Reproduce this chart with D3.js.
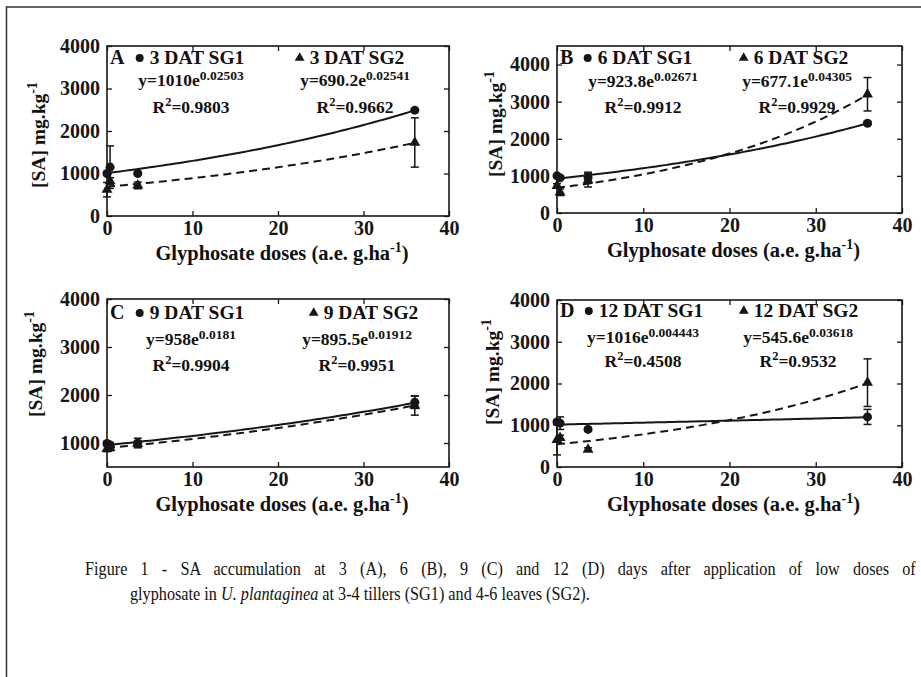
<!DOCTYPE html>
<html>
<head>
<meta charset="utf-8">
<script src="https://cdn.jsdelivr.net/npm/d3@7"></script>
<style>
  body { margin: 0; background: #fff; }
  svg { display: block; }
  text { font-family: "Liberation Serif", "Times New Roman", serif; fill: #111; }
</style>
</head>
<body>
<svg id="chart" width="921" height="677"></svg>
<script>
// doses (a.e. g/ha)
const doses = [0, 0.36, 3.6, 36];
const letters = ['A', 'B', 'C', 'D'];
const dat = [3, 6, 9, 12];

// SA means and error bars
const sg1Mean = [[1000, 1150, 1000, 2490], [1000, 950, 950, 2420], [990, 960, 1000, 1850], [1080, 1050, 900, 1200]];
const sg1Err  = [[40, 500, 30, 30], [40, 40, 150, 50], [40, 40, 100, 130], [40, 150, 40, 180]];
const sg2Mean = [[620, 820, 720, 1730], [730, 560, 880, 3200], [880, 900, 980, 1780], [650, 700, 420, 2020]];
const sg2Err  = [[170, 80, 80, 580], [60, 90, 180, 450], [60, 60, 60, 200], [360, 60, 40, 570]];

// fitted exponentials y = a e^(b x), as printed
const sg1A = ['1010', '923.8', '958', '1016'];
const sg1B = ['0.02503', '0.02671', '0.0181', '0.004443'];
const sg1R2 = ['0.9803', '0.9912', '0.9904', '0.4508'];
const sg2A = ['690.2', '677.1', '895.5', '545.6'];
const sg2B = ['0.02541', '0.04305', '0.01912', '0.03618'];
const sg2R2 = ['0.9662', '0.9929', '0.9951', '0.9532'];

const yDomains = [[0, 4000], [0, 4500], [500, 4000], [0, 4000]];
const yTicks = [[0, 1000, 2000, 3000, 4000], [0, 1000, 2000, 3000, 4000], [1000, 2000, 3000, 4000], [0, 1000, 2000, 3000, 4000]];
const xTicks = [0, 10, 20, 30, 40];

// panel boxes; c = equation column centres, lc = legend label centres
const boxes = [
  {left: 107, right: 449, top: 46, bottom: 216, c: [191, 355], lc: [197, 357], yl: -62, ylc: 135, row: [64, 86, 113]},
  {left: 557, right: 902, top: 46, bottom: 213, c: [643, 797], lc: [645, 801], yl: -55, ylc: 124, row: [64, 87, 113]},
  {left: 107, right: 449, top: 299, bottom: 467, c: [191, 357], lc: [197, 371], yl: -65, ylc: 364, row: [319, 345, 371]},
  {left: 557, right: 902, top: 300, bottom: 467, c: [643, 798], lc: [651, 806], yl: -58, ylc: 372, row: [317, 343, 367]}
];

const svg = d3.select('#chart');
const ink = '#161616';

// outer frame
svg.append('rect')
  .attr('x', 6.5).attr('y', 7)
  .attr('width', 930).attr('height', 690)
  .style('fill', 'none').style('stroke', '#333').style('stroke-width', 1.5);

boxes.forEach((b, i) => {
  const g = svg.append('g');
  const x = d3.scaleLinear().domain([0, 40]).range([b.left, b.right]);
  const y = d3.scaleLinear().domain(yDomains[i]).range([b.bottom, b.top]);

  // axes, inward ticks on all four sides
  g.append('g')
    .attr('transform', `translate(0,${b.bottom})`)
    .call(d3.axisBottom(x).tickValues(xTicks).tickSizeInner(-5).tickSizeOuter(0).tickPadding(5).tickFormat(d3.format('d')));
  g.append('g')
    .attr('transform', `translate(0,${b.top})`)
    .call(d3.axisTop(x).tickValues(xTicks).tickSizeInner(-5).tickSizeOuter(0).tickFormat(''));
  g.append('g')
    .attr('transform', `translate(${b.left},0)`)
    .call(d3.axisLeft(y).tickValues(yTicks[i]).tickSizeInner(-5).tickSizeOuter(0).tickPadding(7).tickFormat(d3.format('d')));
  g.append('g')
    .attr('transform', `translate(${b.right},0)`)
    .call(d3.axisRight(y).tickValues(yTicks[i]).tickSizeInner(-5).tickSizeOuter(0).tickFormat(''));
  g.selectAll('.domain').remove();
  g.selectAll('.tick line').style('stroke', ink).style('stroke-width', 1.3);
  g.selectAll('.tick text')
    .style('font-size', '20px').style('font-weight', 'bold')
    .style('font-family', '"Liberation Serif", serif').style('fill', ink);

  g.append('rect')
    .attr('x', b.left).attr('y', b.top)
    .attr('width', b.right - b.left).attr('height', b.bottom - b.top)
    .style('fill', 'none').style('stroke', ink).style('stroke-width', 1.6);

  // fitted curves
  const xs = d3.range(0, 36.01, 0.5);
  const line = d3.line().x(d => x(d[0])).y(d => y(d[1]));
  const fit1 = xs.map(v => [v, +sg1A[i] * Math.exp(+sg1B[i] * v)]);
  const fit2 = xs.map(v => [v, +sg2A[i] * Math.exp(+sg2B[i] * v)]);
  g.append('path').datum(fit1).attr('d', line)
    .style('fill', 'none').style('stroke', ink).style('stroke-width', 2);
  g.append('path').datum(fit2).attr('d', line)
    .style('fill', 'none').style('stroke', ink).style('stroke-width', 2)
    .style('stroke-dasharray', '8,5');

  // error bars + markers
  const drawSeries = (means, errs, shape, size) => {
    const pts = doses.map((d, k) => ({d, m: means[k], e: errs[k]}));
    const eb = g.append('g').style('stroke', ink).style('stroke-width', 1.5);
    pts.forEach(p => {
      const cx = x(p.d);
      eb.append('line').attr('x1', cx).attr('x2', cx)
        .attr('y1', y(p.m - p.e)).attr('y2', y(p.m + p.e));
      [p.m - p.e, p.m + p.e].forEach(v => {
        eb.append('line').attr('x1', cx - 4).attr('x2', cx + 4)
          .attr('y1', y(v)).attr('y2', y(v));
      });
    });
    g.selectAll(null).data(pts).enter().append('path')
      .attr('d', d3.symbol().type(shape).size(size))
      .attr('transform', p => `translate(${x(p.d)},${y(p.m)})`)
      .style('fill', ink);
  };
  drawSeries(sg1Mean[i], sg1Err[i], d3.symbolCircle, 64);
  drawSeries(sg2Mean[i], sg2Err[i], d3.symbolTriangle, 52);

  // panel letter
  g.append('text').attr('x', b.left + 3).attr('y', b.row[0])
    .text(letters[i]).style('font-size', '20px').style('font-weight', 'bold');

  // legend + equations
  const cols = [
    {c: b.c[0], lc: b.lc[0], sym: d3.symbolCircle, ss: 50, lab: `${dat[i]} DAT SG1`, a: sg1A[i], bb: sg1B[i], r2: sg1R2[i]},
    {c: b.c[1], lc: b.lc[1], sym: d3.symbolTriangle, ss: 42, lab: `${dat[i]} DAT SG2`, a: sg2A[i], bb: sg2B[i], r2: sg2R2[i]}
  ];
  cols.forEach(col => {
    const lt = g.append('text').attr('x', col.lc).attr('y', b.row[0])
      .attr('text-anchor', 'middle')
      .text(col.lab).style('font-size', '19.5px').style('font-weight', 'bold');
    const w = lt.node().getComputedTextLength();
    g.append('path')
      .attr('d', d3.symbol().type(col.sym).size(col.ss))
      .attr('transform', `translate(${col.lc - w / 2 - 10},${b.row[0] - 6})`)
      .style('fill', ink);

    const eq = g.append('text').attr('x', col.c).attr('y', b.row[1])
      .attr('text-anchor', 'middle').style('font-size', '17.5px').style('font-weight', 'bold');
    eq.append('tspan').text(`y=${col.a}e`);
    eq.append('tspan').attr('dy', -6.5).style('font-size', '13.5px').text(col.bb);

    const r = g.append('text').attr('x', col.c).attr('y', b.row[2])
      .attr('text-anchor', 'middle').style('font-size', '17.5px').style('font-weight', 'bold');
    r.append('tspan').text('R');
    r.append('tspan').attr('dy', -7).style('font-size', '12.5px').text('2');
    r.append('tspan').attr('dy', 7).text(`=${col.r2}`);
  });

  // axis titles
  const xl = g.append('text')
    .attr('x', (b.left + b.right) / 2 + 4).attr('y', b.bottom + 44)
    .attr('text-anchor', 'middle').style('font-size', '20.5px').style('font-weight', 'bold');
  xl.append('tspan').text('Glyphosate doses (a.e. g.ha');
  xl.append('tspan').attr('dy', -8).style('font-size', '14px').text('-1');
  xl.append('tspan').attr('dy', 8).text(')');

  const yl = g.append('text')
    .attr('transform', `translate(${b.left + b.yl},${b.ylc}) rotate(-90)`)
    .attr('text-anchor', 'middle').style('font-size', '19.5px').style('font-weight', 'bold');
  yl.append('tspan').text('[SA] mg.kg');
  yl.append('tspan').attr('dy', -8).style('font-size', '14px').text('-1');
});

// caption: second line sets the horizontal squeeze, first line is justified
const cap = svg.append('g').style('font-size', '18px');
const c2 = cap.append('text').attr('x', 0).attr('y', 0);
c2.append('tspan').text('glyphosate in ');
c2.append('tspan').style('font-style', 'italic').text('U. plantaginea');
c2.append('tspan').text(' at 3-4 tillers (SG1) and 4-6 leaves (SG2).');
const k = 460 / c2.node().getComputedTextLength();
c2.attr('transform', `translate(130,600) scale(${k},1)`);

const line1 = 'Figure 1 - SA accumulation at 3 (A), 6 (B), 9 (C) and 12 (D) days after application of low doses of';
const c1 = cap.append('text').attr('x', 0).attr('y', 0).text(line1);
const nat = c1.node().getComputedTextLength();
const gaps = line1.split(' ').length - 1;
c1.style('word-spacing', `${(831 / k - nat) / gaps}px`)
  .attr('transform', `translate(85,575) scale(${k},1)`);
</script>
</body>
</html>
